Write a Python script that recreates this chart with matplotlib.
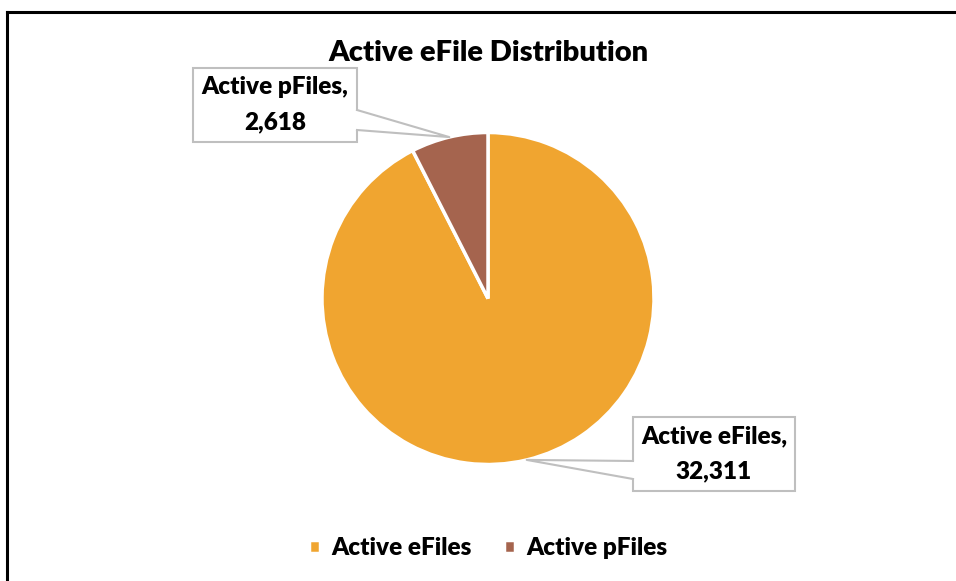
import numpy as np
import matplotlib.pyplot as plt
from matplotlib.patches import Rectangle, Polygon
from matplotlib.lines import Line2D

labels = ["Active eFiles", "Active pFiles"]
counts = [32311, 2618]
colors = ["#F0A530", "#A5644E"]
title = "Active eFile Distribution"

W, H = 956, 581
plt.rcParams["font.family"] = ["Lato", "DejaVu Sans"]

fig = plt.figure(figsize=(W / 100, H / 100), dpi=100)
ax = fig.add_axes([0, 0, 1, 1])


def py(y):
    # pixel row from the top -> data y
    return H - y


cx, cy, r = 488, py(298.5), 166
wedges, _ = ax.pie(counts, colors=colors, startangle=90, counterclock=False,
                   center=(cx, cy), radius=r, frame=True,
                   wedgeprops=dict(edgecolor="white", linewidth=2.5))
ax.set_xlim(0, W)
ax.set_ylim(0, H)
ax.set_aspect("equal")
ax.axis("off")

# chart border (only left/top edges fall inside the picture)
fig.add_artist(Line2D([7 / W, 7 / W], [0, py(12) / H], color="black", lw=2.2))
fig.add_artist(Line2D([7 / W, 1], [py(12) / H, py(12) / H], color="black", lw=2.2))

ax.text(cx, py(53), title, ha="center", va="center", fontsize=21,
        fontweight="heavy")

gray = "#BFBFBF"
boxes = {
    0: dict(box=(633, 417, 795, 491), base=(633, 461, 479)),
    1: dict(box=(193, 68, 357, 142), base=(357, 110, 130)),
}
for i, w in enumerate(wedges):
    mid = np.deg2rad((w.theta1 + w.theta2) / 2)
    tip = (cx + r * np.cos(mid), cy + r * np.sin(mid))
    x0, y0, x1, y1 = boxes[i]["box"]
    ax.add_patch(Rectangle((x0, py(y1)), x1 - x0, y1 - y0, facecolor="white",
                           edgecolor=gray, lw=1.5, zorder=5))
    bx, b0, b1 = boxes[i]["base"]
    inset = 2 if bx == x1 else -2
    ax.add_patch(Polygon([(bx - inset, py(b0)), tip, (bx - inset, py(b1))],
                         closed=True, facecolor="white", edgecolor="none",
                         zorder=6))
    ax.plot([bx, tip[0], bx], [py(b0), tip[1], py(b1)], color=gray, lw=1.5,
            zorder=7)
    ax.text((x0 + x1) / 2, py((y0 + y1) / 2), f"{labels[i]},\n{counts[i]:,}",
            ha="center", va="center", fontsize=17.5, fontweight="heavy",
            linespacing=1.75, zorder=8)

ax.legend(wedges, labels, loc="center", bbox_to_anchor=(cx / W, py(548) / H),
          ncol=2, frameon=False, prop=dict(size=17.5, weight="heavy"),
          handlelength=0.45, handleheight=0.45, handletextpad=0.45,
          columnspacing=1.35)

fig.savefig("out.png", dpi=100, facecolor="white")
